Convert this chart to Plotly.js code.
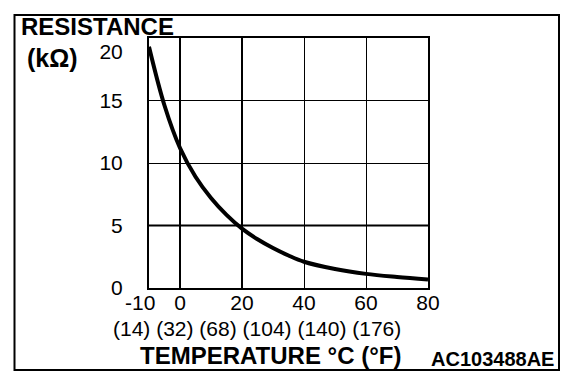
<!DOCTYPE html>
<html><head><meta charset="utf-8">
<script src="https://cdn.plot.ly/plotly-3.0.1.min.js"></script>
<style>html,body{margin:0;padding:0;background:#fff}#chart{width:576px;height:380px}</style>
</head><body><div id="chart"></div>
<script>
// ---- data ----
const temperatureC = [-10, -5, 0, 5, 10, 15, 20, 25, 30, 35, 40, 50, 60, 70, 80];
const resistanceK = [19.3, 14.6, 11.2, 8.9, 7.2, 5.85, 4.75, 3.9, 3.2, 2.6, 2.1, 1.52, 1.13, 0.88, 0.68];
const xTickValues = [-10, 0, 20, 40, 60, 80];
const xTickLabels = ['-10', '0', '20', '40', '60', '80'];
const fahrenheitLabels = ['(14)', '(32)', '(68)', '(104)', '(140)', '(176)'];
const yTickValues = [0, 5, 10, 15, 20];
const yTickLabels = ['0', '5', '10', '15', '20'];
const boldGridX = [0, 20];
const boldGridY = [5];

// ---- layout geometry ----
const W = 576, H = 380;
const L = 149, R = 148, T = 38, B = 92;
const PW = W - L - R, PH = H - T - B;
const px = v => (v - L) / PW;
const py = v => (H - B - v) / PH;

const FONT = 'Liberation Sans, Arial, Helvetica, sans-serif';

// small left nudge of the first tick label (as in the drawing)
const xPad = ['\u00a0\u00a0\u00a0', '', '', '', '', ''];
const xTickText = xTickLabels.map((t, i) => t + xPad[i]);
const yTickText = yTickLabels.map((t, i) => (i === yTickLabels.length - 1 ? '<br>' + t : t));

const shapes = [];
boldGridX.forEach(v => shapes.push({type: 'line', xref: 'x', yref: 'paper', x0: v, x1: v, y0: 0, y1: 1,
  line: {color: '#000', width: 2}, layer: 'below'}));
boldGridY.forEach(v => shapes.push({type: 'line', xref: 'paper', yref: 'y', x0: 0, x1: 1, y0: v, y1: v,
  line: {color: '#000', width: 2}, layer: 'below'}));
// outer frame of the figure
shapes.push({type: 'rect', xref: 'paper', yref: 'paper', x0: px(14.5), x1: px(559), y0: py(370), y1: py(15),
  line: {color: '#000', width: 2}, fillcolor: 'rgba(0,0,0,0)'});

const annotations = [
  {text: '<b>RESISTANCE</b>', xref: 'paper', yref: 'paper', x: px(20), y: py(27), xanchor: 'left', yanchor: 'middle',
   showarrow: false, borderpad: 0, font: {family: FONT, size: 24, color: '#000'}},
  {text: '<b>(kΩ)</b>', xref: 'paper', yref: 'paper', x: px(53), y: py(58), xanchor: 'center', yanchor: 'middle',
   showarrow: false, borderpad: 0, font: {family: FONT, size: 25, color: '#000'}},
  {text: fahrenheitLabels.join(' '), xref: 'paper', yref: 'paper', x: px(256.5), y: py(328.5), xanchor: 'center', yanchor: 'middle',
   showarrow: false, borderpad: 0, font: {family: FONT, size: 21, color: '#000'}},
  {text: '<b>TEMPERATURE °C (°F)</b>', xref: 'paper', yref: 'paper', x: px(270), y: py(355.5), xanchor: 'center', yanchor: 'middle',
   showarrow: false, borderpad: 0, font: {family: FONT, size: 24, color: '#000'}},
  {text: '<b>AC103488AE</b>', xref: 'paper', yref: 'paper', x: px(555), y: py(359), xanchor: 'right', yanchor: 'middle',
   showarrow: false, borderpad: 0, font: {family: FONT, size: 20, color: '#000'}}
];

const trace = {
  x: temperatureC, y: resistanceK, type: 'scatter', mode: 'lines',
  line: {color: '#000', width: 4, shape: 'spline', smoothing: 1},
  hoverinfo: 'skip'
};

const layout = {
  width: W, height: H,
  margin: {l: L, r: R, t: T, b: B, pad: 0},
  paper_bgcolor: '#fff', plot_bgcolor: '#fff',
  showlegend: false,
  font: {family: FONT, color: '#000'},
  xaxis: {
    range: [-10, 80], tickmode: 'array', tickvals: xTickValues, ticktext: xTickText,
    tickangle: 0,
    showgrid: true, gridcolor: '#000', gridwidth: 1, zeroline: false,
    showline: true, linecolor: '#000', linewidth: 2, mirror: true,
    ticks: '', ticklabelstandoff: -5,
    tickfont: {family: FONT, size: 21, color: '#000'}, fixedrange: true
  },
  yaxis: {
    range: [0, 20], tickmode: 'array', tickvals: yTickValues, ticktext: yTickText,
    showgrid: true, gridcolor: '#000', gridwidth: 1, zeroline: false,
    showline: true, linecolor: '#000', linewidth: 2, mirror: true,
    ticks: '', ticklabelstandoff: 20,
    tickfont: {family: FONT, size: 21, color: '#000'}, fixedrange: true
  },
  shapes: shapes,
  annotations: annotations
};

Plotly.newPlot('chart', [trace], layout, {staticPlot: true, displayModeBar: false});
</script>
</body></html>
